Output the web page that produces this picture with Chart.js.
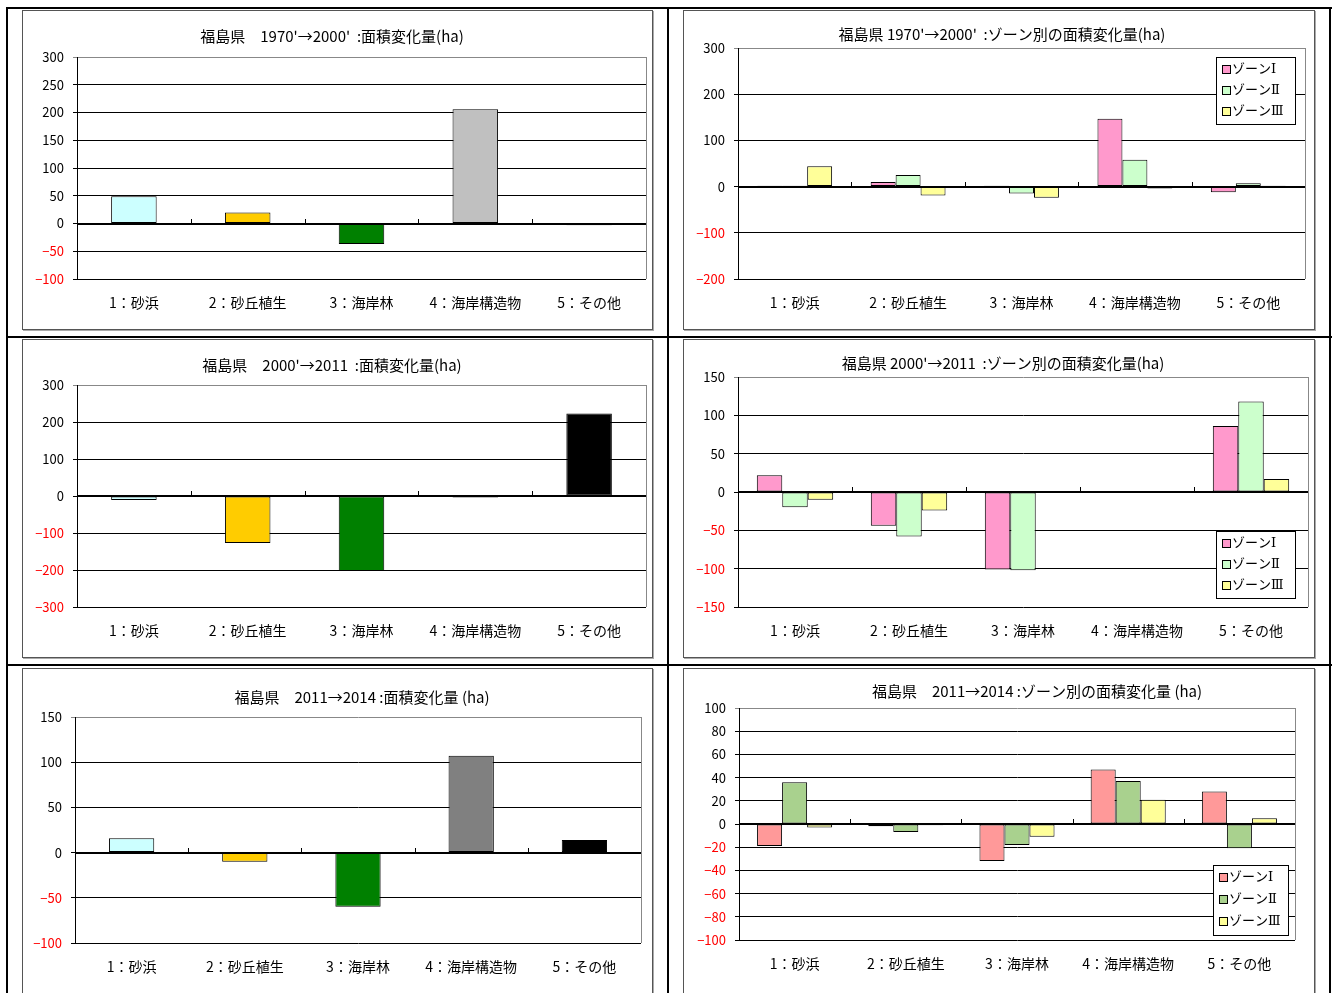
<!DOCTYPE html>
<html>
<head>
<meta charset="utf-8">
<title>福島県 面積変化量</title>
<script src="https://cdn.jsdelivr.net/npm/chart.js"></script>
<style>
    body {
        margin: 0;
        width: 1335px;
        height: 993px;
        overflow: hidden;
        position: relative;
        background: #fff;
    }
    .rule { position: absolute; background: #000; }
    .frame {
        position: absolute;
        box-sizing: border-box;
        border: 1px solid #555;
        box-shadow: 1px 1px 0 #aaa;
        background: #fff;
    }
    canvas { position: absolute; }
</style>
</head>
<body>
<!-- table rules -->
<div class="rule" style="left:6px;top:7px;width:1326px;height:2px"></div>
<div class="rule" style="left:6px;top:336px;width:1326px;height:2px"></div>
<div class="rule" style="left:6px;top:664px;width:1326px;height:2px"></div>
<div class="rule" style="left:6px;top:7px;width:2px;height:990px"></div>
<div class="rule" style="left:667px;top:7px;width:2px;height:990px"></div>
<div class="rule" style="left:1329px;top:7px;width:2px;height:990px"></div>

<div class="frame" style="left:22px;top:10px;width:631px;height:320px"></div>
<div class="frame" style="left:683px;top:10px;width:632px;height:320px"></div>
<div class="frame" style="left:22px;top:339px;width:631px;height:319px"></div>
<div class="frame" style="left:683px;top:339px;width:632px;height:319px"></div>
<div class="frame" style="left:22px;top:668px;width:631px;height:340px"></div>
<div class="frame" style="left:683px;top:668px;width:632px;height:340px"></div>

<canvas id="c1"></canvas>
<canvas id="c2"></canvas>
<canvas id="c3"></canvas>
<canvas id="c4"></canvas>
<canvas id="c5"></canvas>
<canvas id="c6"></canvas>

<script>
    // ---- data ----
    const categories = ['1：砂浜', '2：砂丘植生', '3：海岸林', '4：海岸構造物', '5：その他'];
    const zoneLabels = ['ゾーンⅠ', 'ゾーンⅡ', 'ゾーンⅢ'];

    // 1970'→2000'
    const total7000 = [49, 20, -37, 206, -3];
    const zone1_7000 = [2, 10, 2, 147, -12];
    const zone2_7000 = [2, 25, -15, 58, 7];
    const zone3_7000 = [44, -19, -24, -4, 2];

    // 2000'→2011
    const total0011 = [-11, -127, -203, -4, 223];
    const zone1_0011 = [22, -44, -101, -1, 86];
    const zone2_0011 = [-20, -58, -102, -1, 118];
    const zone3_0011 = [-10, -24, -1, 0, 17];

    // 2011→2014
    const total1114 = [16, -10, -60, 107, 14];
    const zone1_1114 = [-19, -2, -32, 47, 28];
    const zone2_1114 = [36, -7, -18, 37, -21];
    const zone3_1114 = [-3, -1, -11, 21, 5];

    const fontFamily = '"Noto Sans CJK JP", "Noto Sans", sans-serif';
    Chart.defaults.font.family = fontFamily;
    Chart.defaults.color = '#000';

    // zero axis line, category tick marks and grey right edge of the plot area
    const axisLine = {
        id: 'axisLine',
        afterDatasetsDraw(chart) {
            const {ctx, chartArea: a, scales: {x, y}} = chart;
            const y0 = Math.round(y.getPixelForValue(0));
            ctx.save();
            ctx.strokeStyle = '#888';
            ctx.lineWidth = 1;
            ctx.beginPath();
            ctx.moveTo(Math.round(a.right) + 0.5, a.top);
            ctx.lineTo(Math.round(a.right) + 0.5, a.bottom);
            ctx.stroke();

            ctx.strokeStyle = '#000';
            ctx.lineWidth = 2;
            ctx.beginPath();
            ctx.moveTo(a.left, y0);
            ctx.lineTo(a.right, y0);
            ctx.stroke();
            ctx.lineWidth = 1;
            ctx.beginPath();
            for (let i = 1; i < x.ticks.length; i++) {
                const px = Math.round((x.getPixelForValue(i - 1) + x.getPixelForValue(i)) / 2) + 0.5;
                ctx.moveTo(px, y0 - 5);
                ctx.lineTo(px, y0);
            }
            ctx.stroke();
            ctx.restore();
        }
    };

    // chart title, placed like the Excel one (not always centred)
    const sheetTitle = {
        id: 'sheetTitle',
        afterDraw(chart, args, opts) {
            const ctx = chart.ctx;
            ctx.save();
            ctx.font = '15px ' + fontFamily;
            ctx.fillStyle = '#000';
            ctx.textAlign = 'center';
            ctx.textBaseline = 'middle';
            ctx.fillText(opts.text, opts.x, opts.y);
            ctx.restore();
        }
    };

    // Excel style legend box floating inside the plot area
    const boxLegend = {
        id: 'boxLegend',
        afterDraw(chart, args, opts) {
            if (!opts.show) return;
            const {ctx, chartArea: a} = chart;
            const sets = chart.data.datasets;
            const h = opts.rowH * sets.length + opts.pad * 2;
            const x = Math.round(a.right - opts.right - opts.width);
            const y = Math.round(opts.corner === 'top' ? a.top + opts.offset : a.bottom - opts.offset - h);
            ctx.save();
            ctx.fillStyle = '#fff';
            ctx.fillRect(x, y, opts.width, h);
            ctx.strokeStyle = '#000';
            ctx.lineWidth = 1;
            ctx.strokeRect(x + 0.5, y + 0.5, opts.width, h);
            ctx.font = '13px "DejaVu Serif", ' + fontFamily;
            ctx.textBaseline = 'middle';
            sets.forEach((ds, i) => {
                const cy = Math.round(y + opts.pad + opts.rowH * (i + 0.5));
                ctx.fillStyle = ds.backgroundColor;
                ctx.fillRect(x + 7, cy - 4, 7, 7);
                ctx.strokeRect(x + 6.5, cy - 4.5, 8, 8);
                ctx.fillStyle = '#000';
                ctx.fillText(ds.label, x + 16, cy);
            });
            ctx.restore();
        }
    };

    function makeChart(id, frame, plot, titlePos, title, datasets, yr, legend, catPct) {
        const cv = document.getElementById(id);
        const cx = frame.x + 1, cy = frame.y + 1;
        const cw = frame.w - 2, ch = Math.min(frame.h - 2, 993 - cy);
        cv.style.left = cx + 'px';
        cv.style.top = cy + 'px';
        cv.width = cw;
        cv.height = ch;

        return new Chart(cv.getContext('2d'), {
            type: 'bar',
            data: {labels: categories, datasets: datasets},
            plugins: [axisLine, boxLegend, sheetTitle],
            options: {
                responsive: false,
                animation: false,
                layout: {padding: {left: 0, top: plot.t - cy, bottom: 0, right: cx + cw - plot.r}},
                datasets: {
                    bar: {
                        borderColor: '#000',
                        borderWidth: 1,
                        borderSkipped: false,
                        categoryPercentage: catPct,
                        barPercentage: datasets.length > 1 ? 1 : 0.4
                    }
                },
                plugins: {
                    legend: {display: false},
                    tooltip: {enabled: false},
                    title: {display: false},
                    sheetTitle: {text: title, x: titlePos[0] - cx, y: titlePos[1] - cy},
                    boxLegend: legend || {show: false}
                },
                scales: {
                    x: {
                        grid: {display: false, drawTicks: false},
                        border: {display: false},
                        ticks: {padding: 15, font: {size: 14}, color: '#000'},
                        afterFit: s => { s.height = cy + ch - plot.b; }
                    },
                    y: {
                        min: yr.min,
                        max: yr.max,
                        ticks: {
                            stepSize: yr.step,
                            padding: 9,
                            font: {size: 13},
                            color: c => c.tick.value < 0 ? '#FF0000' : '#000',
                            callback: v => v < 0 ? '\u2212' + Math.abs(v) : String(v)
                        },
                        grid: {
                            color: c => c.tick && c.tick.value === yr.max ? '#888' : '#000',
                            lineWidth: 1,
                            tickLength: 4
                        },
                        border: {display: true, color: '#000', width: 1},
                        afterFit: s => { s.width = plot.l - cx; }
                    }
                }
            }
        });
    }

    const singleColors = ['#CCFFFF', '#FFCC00', '#008000', '#C0C0C0', '#000000'];
    const singleColors2 = ['#CCFFFF', '#FFCC00', '#008000', '#808080', '#000000'];
    const zoneColorsA = ['#FF99CC', '#CCFFCC', '#FFFF99'];
    const zoneColorsB = ['#FF9999', '#A9D18E', '#FFFF99'];

    function zoneSets(colors, a, b, c) {
        return [a, b, c].map((d, i) => ({label: zoneLabels[i], data: d, backgroundColor: colors[i]}));
    }

    makeChart('c1', {x: 22, y: 10, w: 631, h: 320}, {l: 77, t: 57, r: 646, b: 279}, [332, 36],
        "福島県　1970'→2000'  :面積変化量(ha)",
        [{label: '面積変化量', data: total7000, backgroundColor: singleColors}],
        {min: -100, max: 300, step: 50}, null, 1);

    makeChart('c2', {x: 683, y: 10, w: 632, h: 320}, {l: 738, t: 48, r: 1305, b: 279}, [1002, 34],
        "福島県 1970'→2000'  :ゾーン別の面積変化量(ha)",
        zoneSets(zoneColorsA, zone1_7000, zone2_7000, zone3_7000),
        {min: -200, max: 300, step: 100},
        {show: true, corner: 'top', right: 10, offset: 9, width: 79, rowH: 21, pad: 2}, 0.66);

    makeChart('c3', {x: 22, y: 339, w: 631, h: 319}, {l: 77, t: 385, r: 646, b: 607}, [332, 365],
        "福島県　2000'→2011  :面積変化量(ha)",
        [{label: '面積変化量', data: total0011, backgroundColor: singleColors2}],
        {min: -300, max: 300, step: 100}, null, 1);

    makeChart('c4', {x: 683, y: 339, w: 632, h: 319}, {l: 738, t: 377, r: 1308, b: 607}, [1003, 363],
        "福島県 2000'→2011  :ゾーン別の面積変化量(ha)",
        zoneSets(zoneColorsA, zone1_0011, zone2_0011, zone3_0011),
        {min: -150, max: 150, step: 50},
        {show: true, corner: 'bottom', right: 13, offset: 9, width: 79, rowH: 21, pad: 2}, 0.67);

    makeChart('c5', {x: 22, y: 668, w: 631, h: 340}, {l: 75, t: 717, r: 641, b: 943}, [362, 697],
        "福島県　2011→2014 :面積変化量 (ha)",
        [{label: '面積変化量', data: total1114, backgroundColor: singleColors2}],
        {min: -100, max: 150, step: 50}, null, 1);

    makeChart('c6', {x: 683, y: 668, w: 632, h: 340}, {l: 739, t: 708, r: 1295, b: 940}, [1037, 691],
        "福島県　2011→2014 :ゾーン別の面積変化量 (ha)",
        zoneSets(zoneColorsB, zone1_1114, zone2_1114, zone3_1114),
        {min: -100, max: 100, step: 20},
        {show: true, corner: 'bottom', right: 7, offset: 5, width: 75, rowH: 22, pad: 2}, 0.675);
</script>
</body>
</html>
